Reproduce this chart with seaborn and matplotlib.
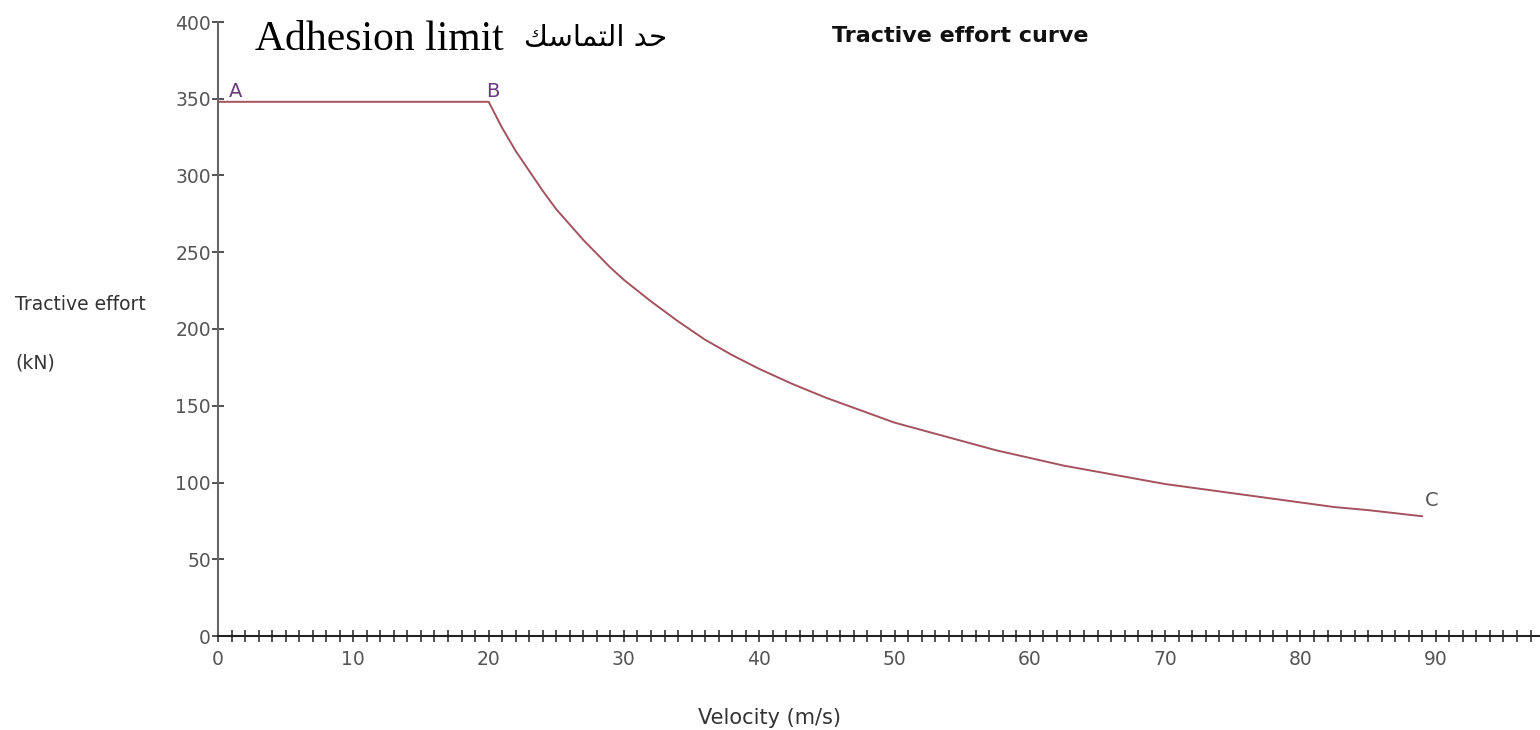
import matplotlib
matplotlib.use("Agg")
import matplotlib.pyplot as plt
from matplotlib.ticker import MultipleLocator
import seaborn as sns
import pandas as pd

sns.set_theme(style="white")
plt.rcParams['font.family'] = ['DejaVu Sans']

# Data
velocity = [0, 20, 21, 22, 23, 24, 25, 26, 27, 28, 29, 30, 32, 34, 36, 38, 40,
            42.5, 45, 47.5, 50, 52.5, 55, 57.5, 60, 62.5, 65, 67.5, 70, 72.5,
            75, 77.5, 80, 82.5, 85, 87, 89]
effort = [348, 348, 331, 316, 303, 290, 278, 268, 258, 249, 240, 232, 218, 205,
          193, 183, 174, 164, 155, 147, 139, 133, 127, 121, 116, 111, 107, 103,
          99, 96, 93, 90, 87, 84, 82, 80, 78]
point_labels = ["A", "B", "C"]
point_x = [1.3, 20.3, 89.7]
point_y = [351, 351, 85]

title = "Tractive effort curve"
annotation = "Adhesion limit"
arabic = "\uFEDA\uFEB3\uFE8E\uFEE4\uFE98\uFEDF\uFE8D \uFEAA\uFEA3"  # حد التماسك (shaped forms)
xlabel = "Velocity (m/s)"
ylabel_lines = ["Tractive effort", "(kN)"]

df = pd.DataFrame({"v": velocity, "f": effort})

fig = plt.figure(figsize=(15.4, 7.3), dpi=100)
ax = fig.add_axes([218 / 1540, 1 - 636 / 730, 1 - 218 / 1540, (636 - 22) / 730])

sns.lineplot(data=df, x="v", y="f", ax=ax, color="#a4535e", linewidth=1.4)

ax.set_xlim(0, 97.7)
ax.set_ylim(0, 400)
ax.xaxis.set_major_locator(MultipleLocator(10))
ax.xaxis.set_minor_locator(MultipleLocator(1))
ax.yaxis.set_major_locator(MultipleLocator(50))
ax.tick_params(axis="x", which="both", direction="inout", length=8, width=1.2,
               color="#333333", labelsize=13.5, labelcolor="#555555", pad=6, bottom=True)
ax.tick_params(axis="y", which="major", direction="inout", length=8, width=1.2,
               color="#333333", labelsize=13.5, labelcolor="#555555", pad=1, left=True)
for s in ["top", "right"]:
    ax.spines[s].set_visible(False)
ax.spines["left"].set_color("#666666")
ax.spines["left"].set_linewidth(1.5)
ax.spines["bottom"].set_color("#222222")
ax.spines["bottom"].set_linewidth(1.5)
ax.set_xlabel("")
ax.set_ylabel("")
ax.grid(False)

for lab, x, y, c in zip(point_labels, point_x, point_y, ["#6a3a7a", "#6a3a7a", "#555555"]):
    ax.text(x, y, lab, color=c, fontsize=14, ha="center", va="baseline")

fig.text(960 / 1540, 1 - 36 / 730, title, fontsize=16, fontweight="bold",
         ha="center", va="center", color="#111111")
fig.text(255 / 1540, 1 - 50 / 730, annotation, fontsize=30, ha="left", va="baseline",
         family=["Liberation Serif"], color="#000000")
fig.text(667 / 1540, 1 - 46 / 730, arabic, fontsize=21, ha="right", va="baseline",
         family=["DejaVu Sans"], color="#000000")
fig.text(770 / 1540, 1 - 718 / 730, xlabel, fontsize=15, ha="center", va="center", color="#333333")
fig.text(15 / 1540, 1 - 305 / 730, ylabel_lines[0], fontsize=13.5, ha="left", va="center", color="#333333")
fig.text(15 / 1540, 1 - 363 / 730, ylabel_lines[1], fontsize=13.5, ha="left", va="center", color="#333333")

fig.savefig("out.png", dpi=100, facecolor="white")
